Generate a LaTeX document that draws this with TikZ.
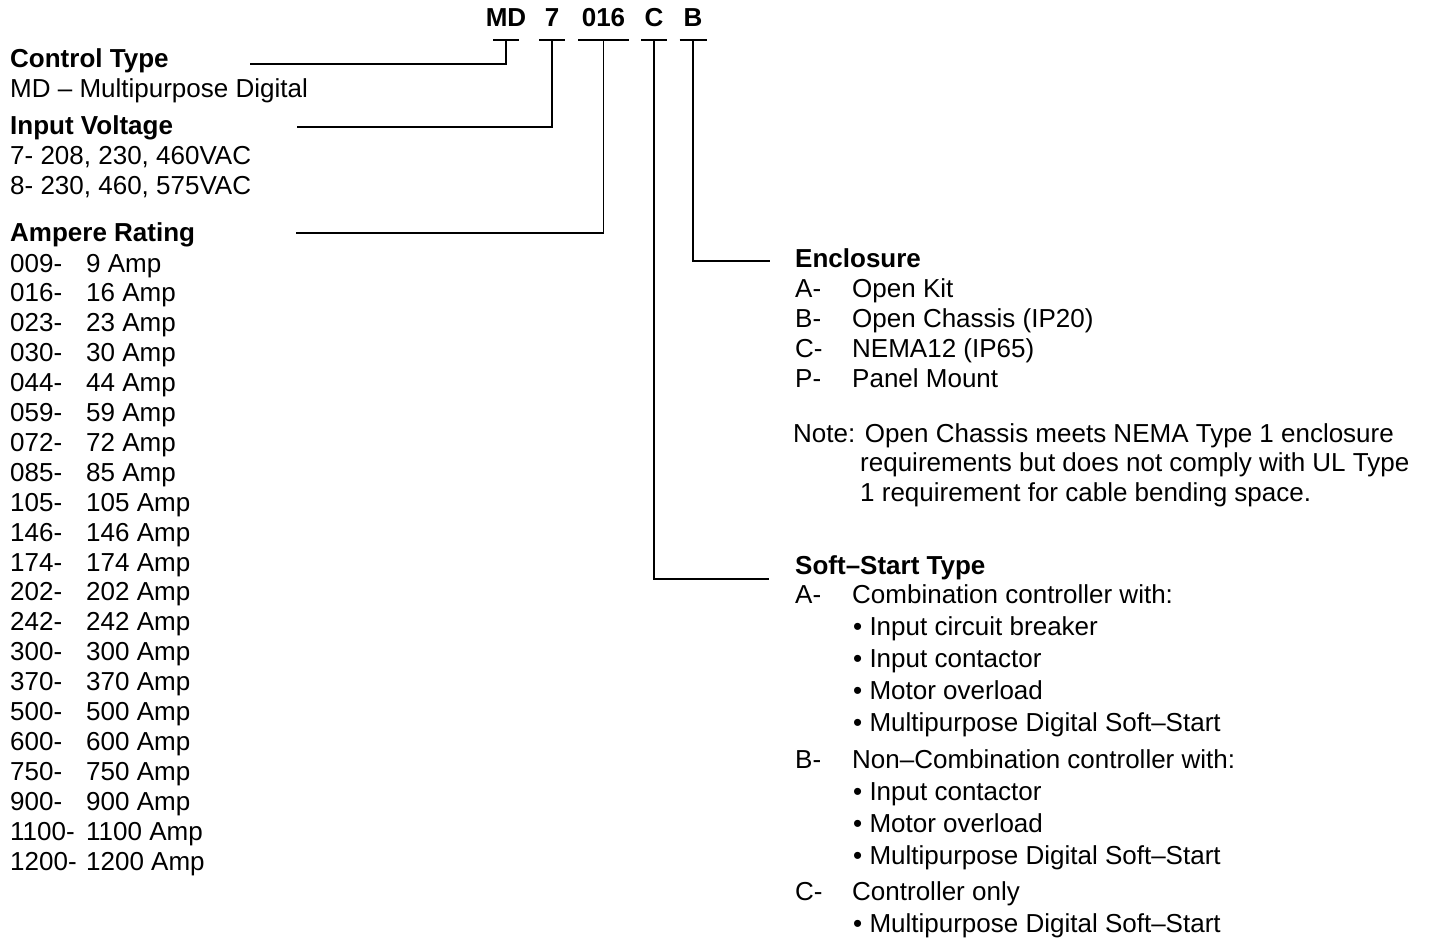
\documentclass[tikz,border=0pt]{standalone}
\usepackage{fontspec}
\setmainfont{Liberation Sans}
\tikzstyle{txt} = [anchor=base west, inner sep=0pt, font=\fontsize{26}{30}\selectfont]
\tikzstyle{head} = [txt, font=\fontsize{26}{30}\selectfont\bfseries]
\tikzstyle{code} = [anchor=south, inner xsep=0pt, inner ysep=13pt, text depth=0pt, font=\fontsize{26}{30}\selectfont\bfseries]
\tikzstyle{lead} = [line width=1.8pt]

\begin{document}
\begin{tikzpicture}[x=1pt,y=-1pt]
    \useasboundingbox (0,0) rectangle (1439,939);
    \node[code] (mdcode) at (506,40) {MD};
    \node[code] (vcode) at (552,40) {7};
    \node[code] (acode) at (603.5,40) {016};
    \node[code] (scode) at (654,40) {C};
    \node[code] (ecode) at (693,40) {B};
    \foreach \n/\w in {mdcode/13,vcode/13,acode/25.5,scode/13,ecode/13.5}{
        \draw[lead] ([xshift=-\w pt]\n.south) -- ([xshift=\w pt]\n.south);
    }
    \coordinate (ctend) at (250,64);
    \coordinate (ivend) at (297,127);
    \coordinate (arend) at (296,233);
    \coordinate (enend) at (770,261);
    \coordinate (ssend) at (769,579);
    \draw[lead] (mdcode.south) |- (ctend);
    \draw[lead] (vcode.south) |- (ivend);
    \draw[lead] (acode.south) |- (arend);
    \draw[lead] (ecode.south) |- (enend);
    \draw[lead] (scode.south) |- (ssend);
    \node[head] (ctype) at (10,68) {Control Type};
    \node[txt] (ctmd) at (10,98) {MD – Multipurpose Digital};
    \node[head] (ivolt) at (10,135) {Input Voltage};
    \node[txt] (iv7) at (10,164) {7- 208, 230, 460VAC};
    \node[txt] (iv8) at (10,194) {8- 230, 460, 575VAC};
    \node[head] (arate) at (10,241) {Ampere Rating};
    \foreach \c/\v [count=\i from 0] in {009/9,016/16,023/23,030/30,044/44,059/59,
        072/72,085/85,105/105,146/146,174/174,202/202,242/242,300/300,370/370,
        500/500,600/600,750/750,900/900,1100/1100,1200/1200}{
        \node[txt] (ac\i) at (10,272+29.9*\i) {\c-};
        \node[txt] (av\i) at (86,272+29.9*\i) {\v\ Amp};
    }
    \node[head] (encl) at (795,267) {Enclosure};
    \foreach \l/\d/\y in {A/Open Kit/297,B/Open Chassis (IP20)/327,
        C/NEMA12 (IP65)/357,P/Panel Mount/387}{
        \node[txt] (enc\l) at (795,\y) {\l-};
        \node[txt] (encd\l) at (852,\y) {\d};
    }
    \node[txt] (note1) at (793,442) {Note: Open Chassis meets NEMA Type 1 enclosure};
    \node[txt] (note2) at (860,471) {requirements but does not comply with UL Type};
    \node[txt] (note3) at (860,501) {1 requirement for cable bending space.};
    \node[head] (sstype) at (795,574) {Soft–Start Type};
    \foreach \l/\d/\y in {A/Combination controller with:/603,
        B/Non–Combination controller with:/768,C/Controller only/900}{
        \node[txt] (ss\l) at (795,\y) {\l-};
        \node[txt] (ssd\l) at (852,\y) {\d};
    }
    \foreach \t/\y [count=\i] in {Input circuit breaker/635,Input contactor/667,
        Motor overload/699,Multipurpose Digital Soft–Start/731,
        Input contactor/800,Motor overload/832,
        Multipurpose Digital Soft–Start/864,Multipurpose Digital Soft–Start/932}{
        \node[txt] (ssb\i) at (853,\y) {• \t};
    }
\end{tikzpicture}
\end{document}
